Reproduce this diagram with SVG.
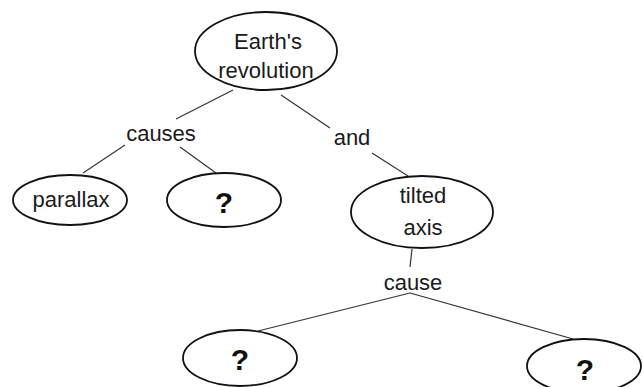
<svg xmlns="http://www.w3.org/2000/svg" width="643" height="387" viewBox="0 0 643 387">
<style>
.node ellipse{fill:#fff;stroke:#111;stroke-width:1.8}
.lbl{font-family:"Liberation Sans",Arial,sans-serif;font-size:22px;fill:#1a1a1a;text-anchor:middle}
.q{font-family:"Liberation Sans",Arial,sans-serif;font-size:30px;font-weight:bold;fill:#111;text-anchor:middle}
#connectors line{stroke:#333;stroke-width:1.2;fill:none}
</style>
<rect width="643" height="387" fill="#fff"/>
<g id="connectors">
<line x1="233" y1="90" x2="176" y2="119"/>
<line x1="125" y1="145" x2="83" y2="173"/>
<line x1="180" y1="147" x2="216" y2="173"/>
<line x1="281" y1="95" x2="330" y2="128"/>
<line x1="372" y1="153" x2="408" y2="176"/>
<line x1="412" y1="249" x2="410" y2="267"/>
<line x1="410" y1="293" x2="258" y2="331"/>
<line x1="410" y1="293" x2="573" y2="339"/>
</g>
<g id="label-causes"><text class="lbl" x="161" y="141">causes</text></g>
<g id="label-and"><text class="lbl" x="352" y="145">and</text></g>
<g id="label-cause"><text class="lbl" x="413" y="290">cause</text></g>
<g id="node-earth" class="node">
<ellipse cx="266" cy="51" rx="71" ry="39"/>
<text class="lbl" x="268" y="49">Earth's</text>
<text class="lbl" x="266" y="78">revolution</text>
</g>
<g id="node-parallax" class="node">
<ellipse cx="70" cy="200" rx="57" ry="25"/>
<text class="lbl" x="71" y="207">parallax</text>
</g>
<g id="node-q1" class="node">
<ellipse cx="224" cy="200" rx="57" ry="27"/>
<text class="q" x="224" y="213">?</text>
</g>
<g id="node-tilted" class="node">
<ellipse cx="422" cy="212" rx="71" ry="36"/>
<text class="lbl" x="423" y="203">tilted</text>
<text class="lbl" x="423" y="235">axis</text>
</g>
<g id="node-q2" class="node">
<ellipse cx="240" cy="358" rx="57" ry="28"/>
<text class="q" x="240" y="370">?</text>
</g>
<g id="node-q3" class="node">
<ellipse cx="584" cy="366" rx="57" ry="27"/>
<text class="q" x="585" y="380">?</text>
</g>
</svg>
